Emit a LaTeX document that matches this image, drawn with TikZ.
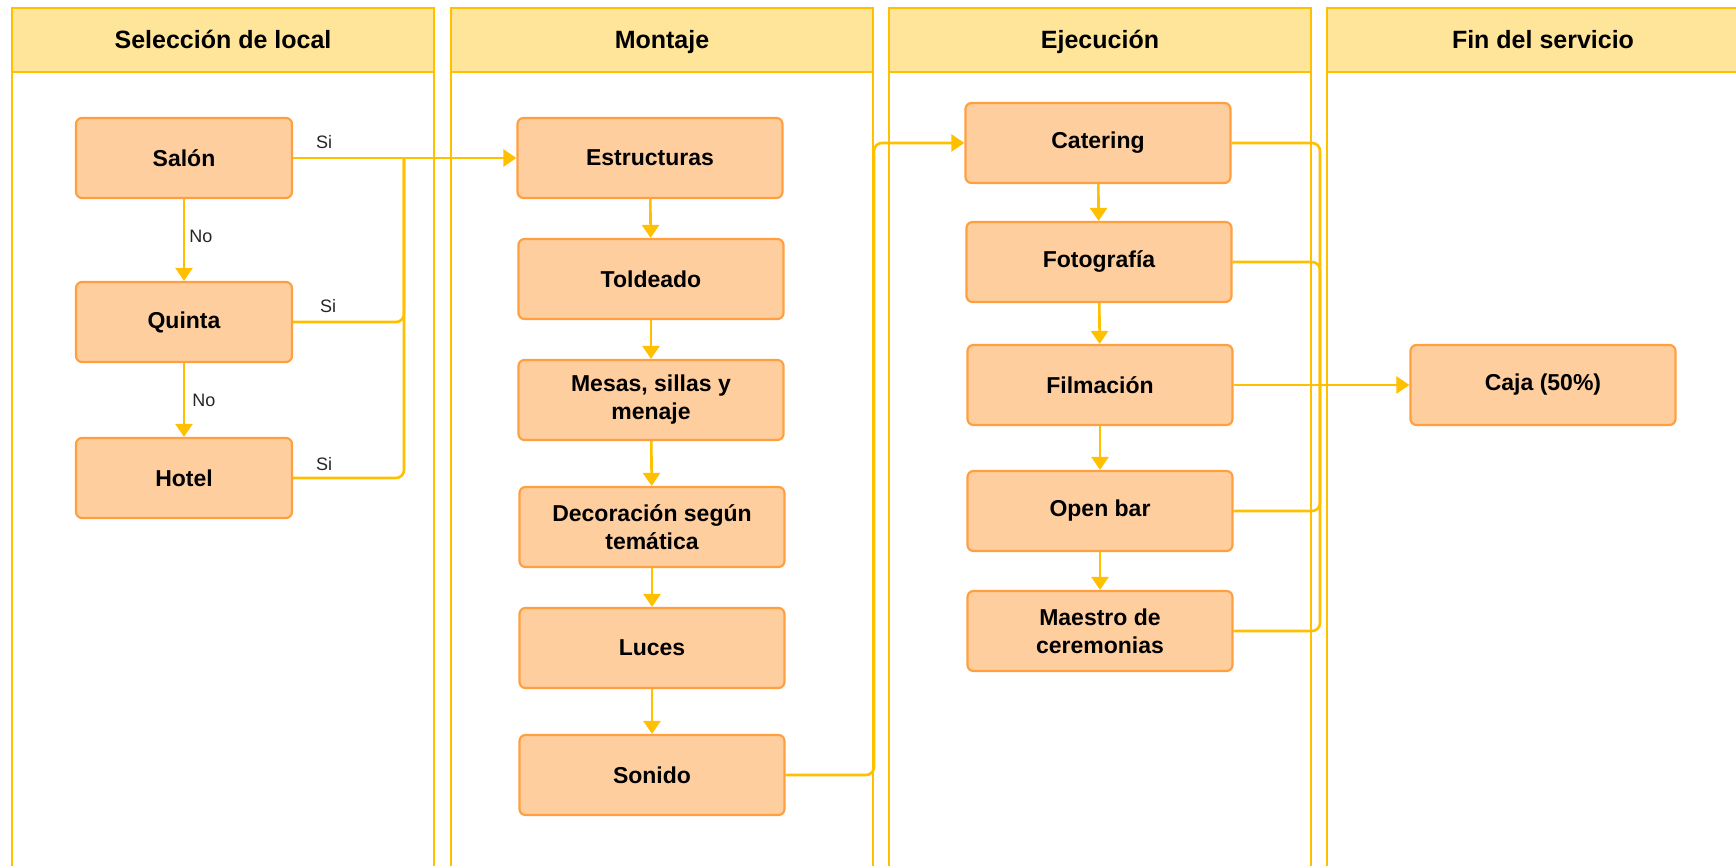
\documentclass[tikz,border=0pt]{standalone}
\usepackage{fontspec}
\setmainfont{Liberation Sans}
\usetikzlibrary{arrows.meta}
\definecolor{gold}{HTML}{FFC000}
\definecolor{peach}{HTML}{FFCE9F}
\definecolor{peachline}{HTML}{FFA040}
\definecolor{headfill}{HTML}{FFE599}
\tikzset{
  lanebody/.style={draw=gold, line width=1pt, fill=white},
  lanehead/.style={draw=gold, line width=1pt, fill=headfill},
  headtext/.style={font=\fontsize{12.5}{14}\selectfont\bfseries, text=black,
    text height=9pt, text depth=2.5pt},
  procbox/.style={draw=peachline, line width=1.1pt, fill=peach, rounded corners=3pt,
    minimum width=132.5pt, minimum height=40pt, align=center,
    font=\fontsize{11.5}{14}\selectfont\bfseries, inner sep=1pt},
  conn/.style={draw=gold, line width=1.3pt, rounded corners=4pt},
  arr/.style={conn, -{Triangle[width=8.5pt,length=6.5pt]}},
  lbl/.style={font=\fontsize{9}{10}\selectfont, text=black!85, inner sep=1pt}
}
\begin{document}
\begin{tikzpicture}[x=0.5pt,y=-0.5pt]
\useasboundingbox (0,0) rectangle (1736,866);
\clip (0,0) rectangle (1736,866);
\fill[white] (0,0) rectangle (1736,866);
% lanes
\draw[lanebody] (12,72) rectangle (434,900);
\draw[lanehead] (12,8) rectangle (434,72);
\draw[lanebody] (451,72) rectangle (873,900);
\draw[lanehead] (451,8) rectangle (873,72);
\draw[lanebody] (889,72) rectangle (1311,900);
\draw[lanehead] (889,8) rectangle (1311,72);
\draw[lanebody] (1327,72) rectangle (1780,900);
\draw[lanehead] (1327,8) rectangle (1780,72);
\node[headtext] (h1) at (223,42) {Selección de local};
\node[headtext] (h2) at (662,42) {Montaje};
\node[headtext] (h3) at (1100,42) {Ejecución};
\node[headtext] (h4) at (1543,42) {Fin del servicio};
% boxes
\node[procbox, minimum width=108pt] (salon) at (184,158) {Salón};
\node[procbox, minimum width=108pt] (quinta) at (184,322) {Quinta};
\node[procbox, minimum width=108pt] (hotel) at (184,478) {Hotel};
\node[procbox] (estr) at (650,158) {Estructuras};
\node[procbox] (told) at (651,279) {Toldeado};
\node[procbox] (mesas) at (651,400) {Mesas, sillas y\\menaje};
\node[procbox] (deco) at (652,527) {Decoración según\\temática};
\node[procbox] (luces) at (652,648) {Luces};
\node[procbox] (sonido) at (652,775) {Sonido};
\node[procbox] (cat) at (1098,143) {Catering};
\node[procbox] (foto) at (1099,262) {Fotografía};
\node[procbox] (film) at (1100,385) {Filmación};
\node[procbox] (open) at (1100,511) {Open bar};
\node[procbox] (maes) at (1100,631) {Maestro de\\ceremonias};
\node[procbox] (caja) at (1543,385) {Caja (50\%)};
% junction coordinates
\coordinate (j1) at (404,158);
\coordinate (j2) at (874,0);
\coordinate (j3) at (1320,0);
% connectors
\draw[arr] (salon) -- (quinta);
\node[lbl] (no1) at (201,236) {No};
\node[lbl] (no2) at (204,400) {No};
\draw[arr] (quinta) -- (hotel);
\draw[arr] (salon.east) -- (estr.west);
\draw[conn] (quinta.east) -| (j1);
\draw[conn] (hotel.east) -| (j1);
\node[lbl] (si1) at (324,142) {Si};
\node[lbl] (si2) at (328,306) {Si};
\node[lbl] (si3) at (324,464) {Si};
\draw[arr] (estr) -- (told);
\draw[arr] (told) -- (mesas);
\draw[arr] (mesas) -- (deco);
\draw[arr] (deco) -- (luces);
\draw[arr] (luces) -- (sonido);
\draw[arr] (sonido.east) -| (j2 |- cat.west) -- (cat.west);
\draw[arr] (cat) -- (foto);
\draw[arr] (foto) -- (film);
\draw[arr] (film) -- (open);
\draw[arr] (open) -- (maes);
\draw[conn] (cat.east) -| (j3 |- caja.west);
\draw[conn] (foto.east) -| (j3 |- caja.west);
\draw[conn] (open.east) -| (j3 |- caja.west);
\draw[conn] (maes.east) -| (j3 |- caja.west);
\draw[arr] (film.east) -- (caja.west);
\end{tikzpicture}
\end{document}
